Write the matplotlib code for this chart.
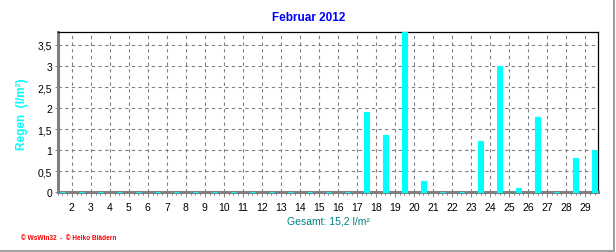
import matplotlib
matplotlib.use("Agg")
import matplotlib.pyplot as plt
from matplotlib.ticker import FixedLocator, FuncFormatter
import numpy as np

plt.rcParams['font.family'] = ['Liberation Sans', 'DejaVu Sans']

# daily rain, February 2012 (l/m²)
days = list(range(1, 30))
rain = [0, 0, 0, 0, 0, 0, 0, 0, 0, 0,
        0, 0, 0, 0, 0, 0, 1.9, 1.37, 3.8, 0.27,
        0, 0, 1.22, 3.0, 0.1, 1.8, 0, 0.82, 1.0]
tick_days = list(range(2, 30))
yticks = [0, 0.5, 1, 1.5, 2, 2.5, 3, 3.5]
title = "Februar 2012"
total_text = "Gesamt: 15,2 l/m²"

W, H = 616, 253
fig = plt.figure(figsize=(W / 100, H / 100), dpi=100)
x0, x1, ytop, ybot = 57.5, 598, 33.3, 193.3
ax = fig.add_axes([x0 / W, 1 - ybot / H, (x1 - x0) / W, (ybot - ytop) / H])

ax.bar(days, rain, width=0.26, color='#00ffff', edgecolor='#00ffff',
       linewidth=0.8, zorder=3, clip_on=False)

ax.set_xlim(0.75, 29.18)
ax.set_ylim(0, 3.8)

# grid lines sit between days, labelled with the following day
ax.xaxis.set_major_locator(FixedLocator([d - 0.5 for d in tick_days]))
ax.set_xticklabels([str(d) for d in tick_days])
ax.xaxis.set_minor_locator(FixedLocator(np.arange(0.75, 29.2, 0.25)))
ax.set_yticks(yticks)
ax.yaxis.set_major_formatter(FuncFormatter(lambda v, p: ('%g' % v).replace('.', ',')))

ax.tick_params(axis='x', which='major', length=3.5, width=0.7, color='#808080',
               labelsize=7.5, pad=3.5)
ax.tick_params(axis='x', which='minor', length=2, width=0.7, color='#808080')
ax.tick_params(axis='y', direction='inout', length=5, width=0.7, color='#808080',
               labelsize=7.5, pad=1.5)

ax.grid(True, which='major', color='#808080', linestyle=(0, (3, 3)), linewidth=0.8)
ax.set_axisbelow(True)

for s in ['left', 'bottom']:
    ax.spines[s].set_color('#808080')
    ax.spines[s].set_linewidth(2.2)
for s in ['top', 'right']:
    ax.spines[s].set_color('black')
    ax.spines[s].set_linewidth(0.9)

fig.text(309 / W, 1 - 18 / H, title, color='#0000ff', fontsize=8.5, fontweight='bold',
         ha='center', va='center')
fig.text(22 / W, 1 - 114 / H, "Regen  (l/m²)", color='#00ffff', fontsize=8.5,
         fontweight='bold', rotation=90, ha='center', va='center')
fig.text(328 / W, 1 - 222 / H, total_text, color='#008080', fontsize=7.5,
         ha='center', va='center')
fig.text(21 / W, 1 - 239 / H, "© WsWin32  -  © Heiko Blädern", color='#ff0000',
         fontsize=4.7, fontweight='bold', ha='left', va='center')

# panel border at right and bottom
fig.add_artist(plt.Line2D([614 / W, 614 / W], [1 - 251.5 / H, 1], transform=fig.transFigure,
                          color='#a0a0a0', linewidth=1.5))
fig.add_artist(plt.Line2D([0, 614 / W], [1 - 251.5 / H, 1 - 251.5 / H],
                          transform=fig.transFigure, color='#a0a0a0', linewidth=1.5))

fig.savefig("out.png", dpi=100)
